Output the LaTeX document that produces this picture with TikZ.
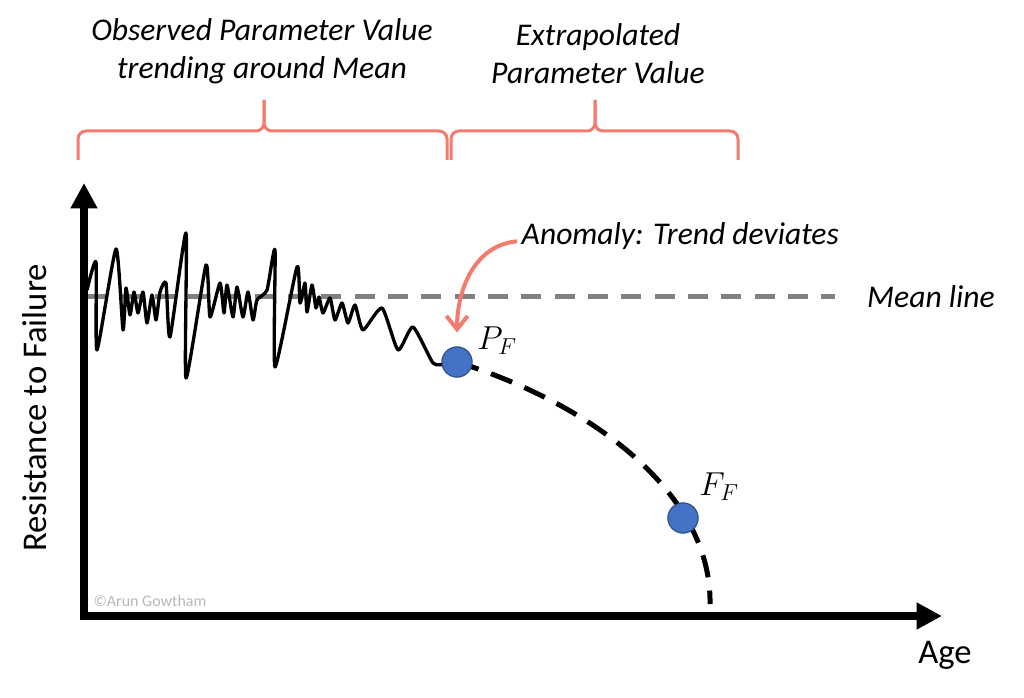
\documentclass[tikz,border=0pt]{standalone}
\usepackage{fontspec}
\setmainfont{Carlito}
\usetikzlibrary{arrows.meta}
\definecolor{salmon}{RGB}{244,124,110}
\definecolor{dotblue}{RGB}{68,114,196}
\definecolor{dotedge}{RGB}{47,82,143}
\definecolor{meangray}{RGB}{128,128,128}
\begin{document}
\begin{tikzpicture}[x=0.75pt,y=-0.75pt]
        \tikzstyle{txt}=[font=\fontsize{26}{31}\selectfont]
        \tikzstyle{itxt}=[font=\fontsize{23.7}{28.5}\selectfont\itshape,align=center]
        \tikzstyle{mathtxt}=[font=\fontsize{23}{28}\selectfont]
        \tikzstyle{axis}=[line width=6pt,{Triangle[length=19pt,width=19pt]}-{Triangle[length=19pt,width=19pt]}]
        \tikzstyle{bracket}=[draw=salmon,line width=2.25pt,rounded corners=6pt]
        \tikzstyle{dot}=[circle,fill=dotblue,draw=dotedge,line width=0.8pt,minimum size=22.5pt,inner sep=0pt]
        \tikzstyle{meanline}=[draw=meangray,line width=3.75pt,dash pattern=on 15pt off 10pt]
        \tikzstyle{signal}=[line width=2.5pt,line join=round]
        \tikzstyle{extrap}=[line width=3.75pt,dash pattern=on 17pt off 10pt]
        \useasboundingbox (0,0) rectangle (1024,698);

        % axes
        \coordinate (ytop) at (84,183);
        \coordinate (origin) at (84,616);
        \coordinate (xend) at (942,616);
        \draw[axis] (ytop) -- (origin) -- (xend);
        \node[txt] (age) at (945,655) {Age};
        \node[txt,rotate=90] (resist) at (35,408) {Resistance to Failure};
        \node[font=\fontsize{12}{14}\selectfont,text=black!28] (copy) at (150,601) {©Arun Gowtham};

        % braces and their labels
        \node[itxt] (obs) at (262,51) {Observed Parameter Value\\trending around Mean};
        \node[itxt] (extra) at (598,54) {Extrapolated\\Parameter Value};
        \draw[bracket] (78,160) -- (78,131) -- (264,131) -- (264,100);
        \draw[bracket] (447,160) -- (447,131) -- (264,131) -- (264,100);
        \draw[bracket] (451,160) -- (451,131) -- (595,131) -- (595,100);
        \draw[bracket] (738,160) -- (738,131) -- (595,131) -- (595,100);

        % mean line
        \coordinate (mstart) at (88,297);
        \coordinate (mend) at (835,297);
        \draw[meanline] (mstart) -- (mend);
        \node[itxt] (mean) at (931,297) {Mean line};

        % points
        \node[dot] (pf) at (457,362) {};
        \node[dot] (ff) at (683,518) {};
        \coordinate (fend) at (710,604);

        % observed signal
        \draw[signal] plot[smooth,tension=0.35] coordinates {(87,290) (96,262) (97,350) (116,249) (123,330) (126,288)
            (130,315) (134,292) (138,313) (143,292) (147,323) (152,295) (156,320) (160,292) (166,283) (170,337)
            (186,233) (186,378) (206,265) (210,317) (220,283) (224,313) (227,285) (233,317) (237,287) (243,317)
            (248,292) (253,320) (257,300) (267,290) (275,250) (275,367) (297,267) (300,303) (305,283) (307,312)
            (312,285) (316,308) (319,297) (323,313) (330,298) (335,320) (342,303) (348,323) (355,305) (363,330)
            (382,308) (398,350) (413,327) (433,363) (445,364)} -- (pf.center);

        % extrapolation
        \draw[extrap] (pf.center) .. controls (595,405) and (712,495) .. (fend);
        \node[dot] at (pf) {};
        \node[dot] at (ff) {};
        \node[mathtxt] (pflbl) at (497,341) {$P_F$};
        \node[mathtxt] (fflbl) at (719,487) {$F_F$};

        % anomaly
        \node[itxt,anchor=west] (anom) at (517,236) {Anomaly: Trend deviates};
        \draw[salmon,line width=3pt,-{Straight Barb[length=10pt,width=16pt]}] ([yshift=-4pt]anom.west) to[out=185,in=90] ([yshift=10.5pt]pf.north);
    \end{tikzpicture}
\end{document}
